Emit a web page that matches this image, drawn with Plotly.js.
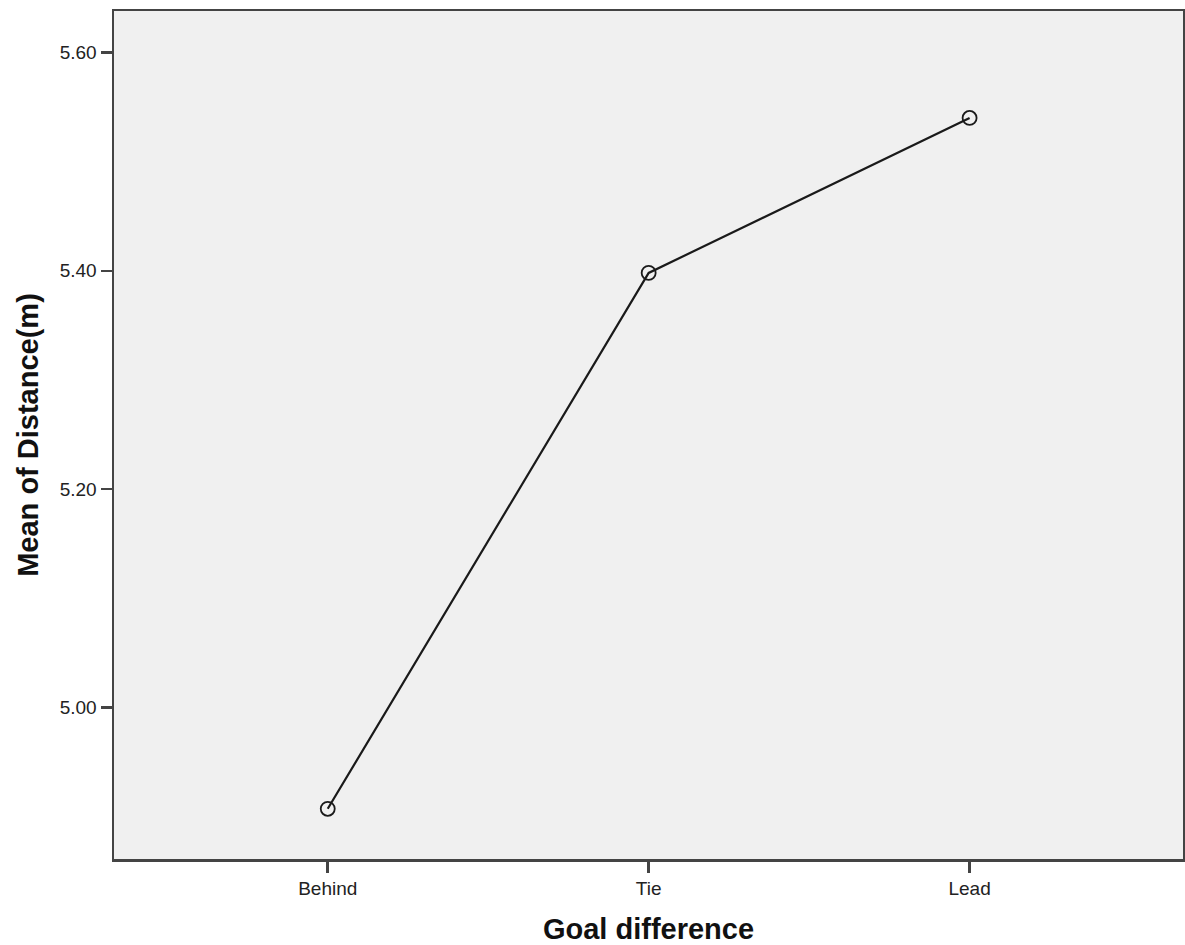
<!DOCTYPE html>
<html>
<head>
<meta charset="utf-8">
<script src="https://cdn.plot.ly/plotly-3.0.1.min.js"></script>
<style>html,body{margin:0;padding:0;background:#fff;}#chart{width:1185px;height:945px;}</style>
</head>
<body>
<div id="chart"></div>
<script>
const categories = ["Behind", "Tie", "Lead"];
const meanDistance = [4.907, 5.398, 5.540];
const yTickValues = [5.00, 5.20, 5.40, 5.60];
const yTickLabels = ["5.00", "5.20", "5.40", "5.60"];

const trace = {
  x: [0, 1, 2],
  y: meanDistance,
  type: "scatter",
  mode: "lines+markers",
  line: {color: "#1a1a1a", width: 2.2},
  marker: {symbol: "circle-open", size: 14, color: "#1a1a1a", line: {width: 1.8, color: "#1a1a1a"}},
  hoverinfo: "skip"
};

const layout = {
  width: 1185,
  height: 945,
  margin: {l: 114, r: 2, t: 11, b: 86},
  paper_bgcolor: "#ffffff",
  plot_bgcolor: "#f0f0f0",
  showlegend: false,
  font: {family: "Liberation Sans, Arial, sans-serif", color: "#222"},
  xaxis: {
    range: [-0.666, 2.665],
    tickmode: "array",
    tickvals: [0, 1, 2],
    ticktext: categories,
    ticks: "outside",
    ticklen: 11,
    tickwidth: 2.5,
    tickcolor: "#444",
    showgrid: false,
    zeroline: false,
    showline: true,
    mirror: true,
    linecolor: "#444",
    linewidth: 2.5,
    tickfont: {size: 19, color: "#222"},
    title: {text: "Goal difference", font: {size: 29, color: "#111", weight: "bold"}, standoff: 22}
  },
  yaxis: {
    range: [4.861, 5.638],
    tickmode: "array",
    tickvals: yTickValues,
    ticktext: yTickLabels,
    ticks: "outside",
    ticklen: 11,
    tickwidth: 2.5,
    tickcolor: "#444",
    showgrid: false,
    zeroline: false,
    showline: true,
    mirror: true,
    linecolor: "#444",
    linewidth: 2.5,
    tickfont: {size: 19, color: "#222"},
    title: {text: "Mean of Distance(m)", font: {size: 29, color: "#111", weight: "bold"}, standoff: 13}
  }
};

Plotly.newPlot("chart", [trace], layout, {displayModeBar: false, staticPlot: true});
</script>
</body>
</html>
